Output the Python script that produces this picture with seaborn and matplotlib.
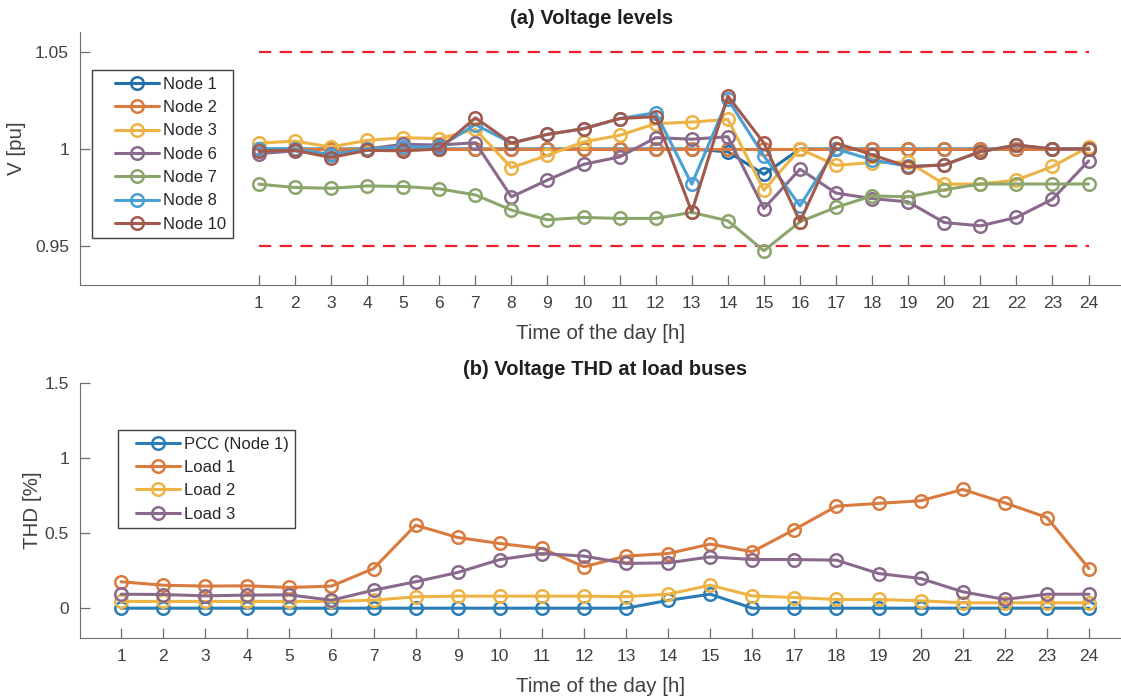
import numpy as np
import pandas as pd
import matplotlib
matplotlib.use("Agg")
import matplotlib.pyplot as plt
from matplotlib.lines import Line2D
from matplotlib.legend_handler import HandlerLine2D
import seaborn as sns

# hours of the day
hours = list(range(1, 25))

# (a) voltage levels [pu]
node_names = ["Node 1", "Node 2", "Node 3", "Node 6", "Node 7", "Node 8", "Node 10"]
node_1 = [1.000, 1.000, 1.000, 1.000, 1.000, 1.000, 1.000, 1.000, 1.000, 1.000, 1.000, 1.000,
          1.000, 0.9985, 0.987, 1.000, 1.000, 1.000, 1.000, 1.000, 1.000, 1.000, 1.000, 1.000]
node_2 = [1.000] * 24
node_3 = [1.003, 1.004, 1.001, 1.0044, 1.0058, 1.0053, 1.010, 0.9904, 0.9967, 1.0036, 1.007, 1.013,
          1.0138, 1.0152, 0.9788, 1.000, 0.9916, 0.993, 0.9933, 0.9819, 0.982, 0.984, 0.991, 1.001]
node_6 = [0.9976, 0.999, 0.9973, 1.000, 1.0024, 1.002, 1.0032, 0.9754, 0.984, 0.9921, 0.9959, 1.0058,
          1.005, 1.0063, 0.9694, 0.9896, 0.9773, 0.9745, 0.9728, 0.9622, 0.9605, 0.9648, 0.9742, 0.9938]
node_7 = [0.9819, 0.9802, 0.9798, 0.981, 0.9807, 0.9795, 0.9764, 0.9686, 0.9636, 0.9648, 0.9643, 0.9643,
          0.9674, 0.9631, 0.9477, 0.9626, 0.970, 0.9759, 0.9754, 0.979, 0.982, 0.982, 0.982, 0.982]
node_8 = [1.000, 1.000, 0.997, 1.000, 1.001, 1.001, 1.0125, 1.003, 1.0075, 1.0104, 1.0156, 1.0186,
          0.9819, 1.0255, 0.9964, 0.9708, 1.000, 0.9944, 0.991, 0.9918, 0.9986, 1.002, 1.000, 1.000]
node_10 = [0.999, 0.9993, 0.9956, 0.9993, 0.999, 1.000, 1.016, 1.003, 1.0075, 1.0104, 1.0156, 1.0166,
           0.9677, 1.0272, 1.003, 0.9626, 1.003, 0.997, 0.9908, 0.9918, 0.9986, 1.002, 1.000, 1.000]
node_colors = ["#2170a8", "#d97b3f", "#edb445", "#8a6a8c", "#8ca56c", "#4aa0d5", "#a35a4c"]
v_limits = [0.95, 1.05]

# (b) voltage THD [%]
load_names = ["PCC (Node 1)", "Load 1", "Load 2", "Load 3"]
thd_pcc = [0.0, 0.0, 0.0, 0.0, 0.0, 0.0, 0.0, 0.0, 0.0, 0.0, 0.0, 0.0,
           0.0, 0.052, 0.093, 0.0, 0.0, 0.0, 0.0, 0.0, 0.0, 0.0, 0.0, 0.0]
thd_load1 = [0.176, 0.153, 0.147, 0.149, 0.138, 0.147, 0.264, 0.553, 0.471, 0.431, 0.398, 0.276,
             0.347, 0.364, 0.427, 0.376, 0.524, 0.680, 0.698, 0.716, 0.791, 0.702, 0.604, 0.264]
thd_load2 = [0.045, 0.045, 0.045, 0.045, 0.045, 0.045, 0.053, 0.076, 0.080, 0.080, 0.080, 0.080,
             0.077, 0.093, 0.153, 0.082, 0.071, 0.058, 0.058, 0.049, 0.036, 0.036, 0.036, 0.036]
thd_load3 = [0.093, 0.091, 0.082, 0.087, 0.089, 0.053, 0.120, 0.176, 0.238, 0.324, 0.364, 0.347,
             0.298, 0.302, 0.342, 0.324, 0.324, 0.320, 0.231, 0.198, 0.109, 0.058, 0.093, 0.093]
load_colors = ["#2a7db5", "#d97b3f", "#edb445", "#8a6a8c"]

sns.set_style("ticks")
plt.rcParams["font.family"] = ["Liberation Sans", "DejaVu Sans"]
plt.rcParams["axes.edgecolor"] = "#6e6e6e"
plt.rcParams["xtick.color"] = "#6e6e6e"
plt.rcParams["ytick.color"] = "#6e6e6e"
plt.rcParams["xtick.labelcolor"] = "#404040"
plt.rcParams["ytick.labelcolor"] = "#404040"


def draw_series(ax, names, series, colors):   # draws each series as open-circle lines
    for name, vals, c in zip(names, series, colors):
        sns.lineplot(x=hours, y=vals, ax=ax, color=c, linewidth=2.2, marker="o",
                     markersize=9, markerfacecolor="none", markeredgecolor=c,
                     markeredgewidth=1.8, label=name)


def style_axes(ax, title, title_x, ylabel):   # matlab-like box-off axes
    sns.despine(ax=ax)
    ax.set_xticks(hours)
    ax.tick_params(direction="in", length=7, width=0.9, labelsize=12.5, pad=8)
    ax.set_title(title, fontsize=14.5, fontweight="bold", color="#202020", pad=6, x=title_x)
    ax.set_xlabel("Time of the day [h]", fontsize=14.8, color="#404040", labelpad=9)
    ax.set_ylabel(ylabel, fontsize=14.8, color="#404040")


def add_legend(ax, anchor, xpad):            # boxed legend, handle inset like matlab
    ax.legend(loc="upper left", bbox_to_anchor=anchor, borderaxespad=0, fontsize=12,
              frameon=True, fancybox=False, edgecolor="#404040", framealpha=1,
              handlelength=2.6 + xpad, handletextpad=0.25, labelspacing=0.5, borderpad=0.4,
              handler_map={Line2D: HandlerLine2D(xpad=xpad)})


fig = plt.figure(figsize=(11.21, 6.99), dpi=100)
ax1 = fig.add_axes([0.0714, 0.592, 0.9286, 0.362])
ax2 = fig.add_axes([0.0714, 0.087, 0.9286, 0.365])

draw_series(ax1, node_names, [node_1, node_2, node_3, node_6, node_7, node_8, node_10], node_colors)
ax1.hlines(v_limits, hours[0], hours[-1], colors="#e8212b", linewidth=1.6,
           linestyles=(0, (5.5, 3.8)), zorder=1)
ax1.set_xlim(-3.96, 24.9)
ax1.set_ylim(0.93, 1.06)
ax1.set_yticks([0.95, 1.0, 1.05])
ax1.set_yticklabels(["0.95", "1", "1.05"])
style_axes(ax1, "(a) Voltage levels", 0.491, "V [pu]")
ax1.yaxis.set_label_coords(-0.052, 0.54)
add_legend(ax1, (0.0115, 0.85), 1.0)

draw_series(ax2, load_names, [thd_pcc, thd_load1, thd_load2, thd_load3], load_colors)
ax2.set_xlim(0.026, 24.76)
ax2.set_ylim(-0.2, 1.5)
ax2.set_yticks([0, 0.5, 1, 1.5])
ax2.set_yticklabels(["0", "0.5", "1", "1.5"])
style_axes(ax2, "(b) Voltage THD at load buses", 0.504, "THD [%]")
ax2.yaxis.set_label_coords(-0.037, 0.5)
add_legend(ax2, (0.0365, 0.816), 0.7)

fig.savefig("out.png", dpi=100)
